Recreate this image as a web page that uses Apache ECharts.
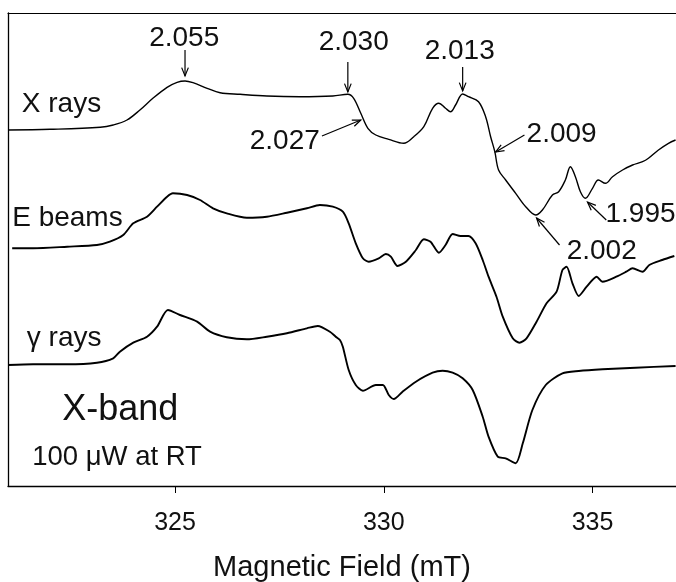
<!DOCTYPE html>
<html>
<head>
<meta charset="utf-8">
<script src="https://cdn.jsdelivr.net/npm/echarts@6/dist/echarts.min.js"></script>
<style>
  html, body { margin: 0; padding: 0; background: #fff; }
  #chart { width: 676px; height: 582px; }
</style>
</head>
<body>
<div id="chart"></div>
<script>
// magnetic field (mT) and signal (a.u., offset per trace)
const xrayField = [321.00, 322.01, 323.21, 323.52, 323.85, 324.16, 324.47, 324.81, 325.05, 325.24, 325.43, 325.77,
  326.08, 326.56, 327.20, 327.99, 328.78, 329.14, 329.28, 329.45, 329.62, 329.81, 330.12, 330.48, 330.72, 330.96,
  331.17, 331.32, 331.48, 331.60, 331.72, 331.89, 332.03, 332.27, 332.44, 332.56, 332.66, 332.75, 332.92, 333.16,
  333.40, 333.64, 333.80, 334.04, 334.19, 334.35, 334.47, 334.59, 334.71, 334.83, 335.00, 335.14, 335.31, 335.48,
  335.72, 335.96, 336.20, 336.34, 336.58, 336.82, 336.99];
const xraySignal = [356, 356.7, 358.7, 361, 366, 376, 387.7, 398.7, 403.7, 405, 403.3, 397.7,
  393.3, 391.7, 390, 389.3, 390, 391.7, 387.7, 372.7, 357.7, 351, 346.7, 342.7, 349.3, 359.3,
  377.7, 382.7, 377.7, 374.3, 381, 392, 389.3, 384.3, 369.3, 349.3, 334.3, 316, 306, 292.7,
  279.3, 271, 276, 291, 294.3, 306, 319.3, 309.3, 294.3, 287.7, 297.7, 306, 302.7, 309.3,
  316, 321, 324.3, 327.7, 336, 342.7, 346];

const ebeamField = [321.10, 321.60, 322.42, 323.13, 323.44, 323.76, 324.00, 324.33, 324.57, 324.81, 324.95, 325.29,
  325.60, 325.91, 326.24, 326.72, 327.20, 327.68, 328.16, 328.47, 328.78, 329.02, 329.16, 329.33, 329.50, 329.64,
  329.88, 330.05, 330.17, 330.33, 330.53, 330.77, 330.96, 331.12, 331.32, 331.48, 331.65, 331.84, 332.03, 332.20,
  332.37, 332.51, 332.70, 332.85, 333.09, 333.25, 333.42, 333.66, 333.90, 334.14, 334.28, 334.38, 334.52, 334.67,
  334.86, 335.10, 335.24, 335.57, 335.81, 335.96, 336.20, 336.36, 336.67, 336.96];
const ebeamSignal = [237.7, 237.7, 239.3, 241, 244.3, 251, 262.7, 269.3, 279.3, 289.3, 292.7, 291,
  286, 277.7, 272.7, 268.3, 269.3, 273.3, 277.7, 281, 279.3, 274.3, 262.7, 242.7, 227.7, 224.3,
  227.7, 232, 229.3, 220, 224.3, 236, 246.7, 244.3, 233.3, 241, 252, 250, 250, 242.7,
  226, 209.3, 189.3, 169.3, 147.7, 143.3, 147.7, 164.3, 182.7, 194.3, 216, 219.3, 202.7, 190,
  199.3, 209.3, 204.3, 209.3, 214.3, 217.7, 214.3, 221, 226, 230];

const gammaField = [321.00, 321.60, 322.42, 323.13, 323.52, 323.68, 324.00, 324.33, 324.57, 324.83, 325.12, 325.53,
  325.84, 326.24, 326.72, 327.20, 327.68, 328.16, 328.42, 328.71, 328.85, 328.95, 329.02, 329.16, 329.33, 329.50,
  329.81, 329.98, 330.12, 330.24, 330.45, 330.77, 331.17, 331.41, 331.65, 331.89, 332.13, 332.37, 332.51, 332.73,
  332.92, 333.16, 333.33, 333.56, 333.88, 334.28, 334.67, 335.24, 336.03, 336.99];
const gammaSignal = [121, 121.7, 121.7, 123.3, 127.7, 134.3, 143.3, 149.3, 159.3, 176, 171, 164.3,
  154.3, 148.7, 146.7, 149.3, 152.7, 157.7, 160, 154.3, 149.3, 146, 139.3, 116, 101, 95.3,
  101, 101, 91, 87, 94.3, 104.3, 113.3, 115.3, 113.3, 107.7, 96, 69.3, 49.3, 29.3,
  27.7, 22.7, 42.7, 76, 101, 112.7, 115, 116.7, 118.3, 120];

const tickValues = [325, 330, 335];

// g-value annotations: label centre, arrow tail, arrow head (field, signal)
const gLabels = ['2.055', '2.030', '2.013', '2.027', '2.009', '1.995', '2.002'];
const gLabelAt = [[325.22, 448], [329.28, 443.5], [331.82, 435], [327.63, 345], [334.26, 352], [336.15, 272], [335.22, 235]];
const gArrowFrom = [[325.24, 436], [329.14, 424], [331.89, 419], [328.52, 350], [333.37, 351], [335.33, 266], [334.21, 241]];
const gArrowTo = [[325.24, 410], [329.14, 394], [331.89, 395], [329.45, 366], [332.68, 334], [334.88, 284], [333.66, 268]];

// trace names and notes
const traceNames = ['X rays', 'E beams', 'γ rays'];
const traceNameAt = [[321.33, 382], [321.10, 268], [321.45, 148]];

const FONT = '"Liberation Sans", Arial, Helvetica, sans-serif';
const chart = echarts.init(document.getElementById('chart'));

const zip = (xs, ys) => xs.map((x, i) => [x, ys[i]]);
const lineSeries = (name, xs, ys, width, smooth) => ({
  type: 'line',
  name: name,
  data: zip(xs, ys),
  showSymbol: false,
  smooth: smooth,
  lineStyle: { color: '#000', width: width },
  silent: true,
  animation: false,
});

chart.setOption({
  animation: false,
  grid: { left: 8, right: 0, top: 13, bottom: 96, outerBoundsMode: 'none', containLabel: false },
  xAxis: [
    {
      type: 'value',
      min: 321,
      max: 337,
      name: 'Magnetic Field (mT)',
      nameLocation: 'middle',
      nameGap: 67,
      nameTextStyle: { fontFamily: FONT, fontSize: 29, color: '#111', verticalAlign: 'top' },
      axisLine: { lineStyle: { color: '#000', width: 1.3 } },
      axisTick: { customValues: tickValues, length: 7, lineStyle: { color: '#000' } },
      axisLabel: { customValues: tickValues, fontFamily: FONT, fontSize: 25, color: '#111', margin: 25 },
      splitLine: { show: false },
    },
    {
      type: 'value',
      position: 'top',
      min: 321,
      max: 337,
      axisLine: { show: true, lineStyle: { color: '#000', width: 1.2 } },
      axisTick: { show: false },
      axisLabel: { show: false },
      splitLine: { show: false },
    },
  ],
  yAxis: {
    type: 'value',
    min: 0,
    max: 473,
    axisLine: { show: true, lineStyle: { color: '#000', width: 1.3 } },
    axisTick: { show: false },
    axisLabel: { show: false },
    splitLine: { show: false },
  },
  series: [
    lineSeries(traceNames[0], xrayField, xraySignal, 1.4, 0.35),
    lineSeries(traceNames[1], ebeamField, ebeamSignal, 1.9, 0.25),
    lineSeries(traceNames[2], gammaField, gammaSignal, 1.9, 0.25),
  ],
});

// annotations placed through the grid's data-to-pixel conversion
const px = (p) => chart.convertToPixel({ gridIndex: 0 }, p);
const graphics = [];
const textEl = (str, p, size, align) => {
  const q = px(p);
  return {
    type: 'text',
    x: q[0],
    y: q[1],
    style: { text: str, fontFamily: FONT, fontSize: size, fill: '#111', align: align, verticalAlign: 'middle' },
    silent: true,
  };
};

gLabels.forEach((label, i) => {
  graphics.push(textEl(label, gLabelAt[i], 28, 'center'));
  const a = px(gArrowFrom[i]);
  const b = px(gArrowTo[i]);
  const ang = Math.atan2(b[1] - a[1], b[0] - a[0]);
  const len = 9, spread = 0.38;
  const h1 = [b[0] - len * Math.cos(ang - spread), b[1] - len * Math.sin(ang - spread)];
  const h2 = [b[0] - len * Math.cos(ang + spread), b[1] - len * Math.sin(ang + spread)];
  graphics.push({ type: 'line', shape: { x1: a[0], y1: a[1], x2: b[0], y2: b[1] }, style: { stroke: '#000', lineWidth: 1.2 }, silent: true });
  graphics.push({ type: 'polyline', shape: { points: [h1, b, h2] }, style: { stroke: '#000', lineWidth: 1.2, fill: null }, silent: true });
});

traceNames.forEach((name, i) => graphics.push(textEl(name, traceNameAt[i], 28, 'left')));
graphics.push(textEl('X-band', [322.30, 76], 36, 'left'));
graphics.push(textEl('100 μW at RT', [321.58, 29], 27.5, 'left'));

chart.setOption({ graphic: graphics });
</script>
</body>
</html>
